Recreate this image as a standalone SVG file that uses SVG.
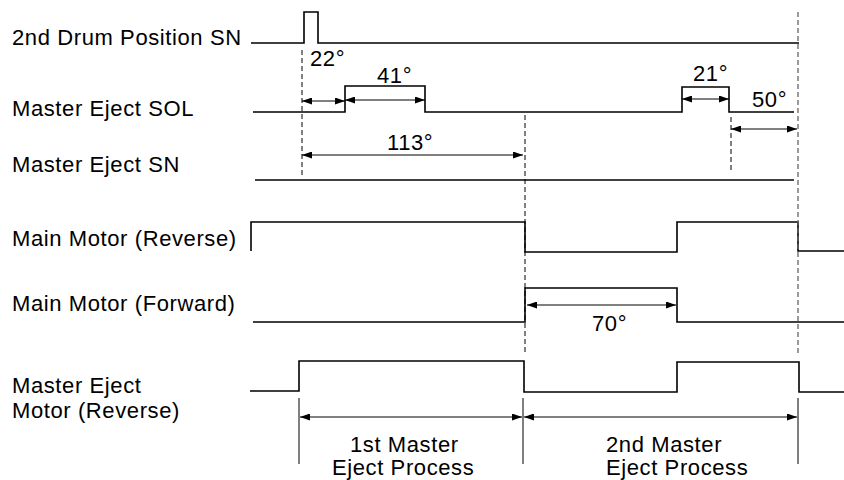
<svg xmlns="http://www.w3.org/2000/svg" width="844" height="480" viewBox="0 0 844 480">
<style>
text{font-family:"Liberation Sans",Arial,sans-serif;font-size:22px;fill:#000;letter-spacing:0.6px}
.sig{fill:none;stroke:#000;stroke-width:1.6}
.dash{fill:none;stroke:#000;stroke-width:1;stroke-dasharray:5,3}
.dashg{fill:none;stroke:#666;stroke-width:1.3;stroke-dasharray:5,3}
.dim{fill:none;stroke:#000;stroke-width:1;marker-start:url(#ah);marker-end:url(#ah)}
.ext{fill:none;stroke:#000;stroke-width:1}
</style>
<defs>
<marker id="ah" viewBox="0 0 10 7" refX="10" refY="3.5" markerWidth="10" markerHeight="7" markerUnits="userSpaceOnUse" orient="auto-start-reverse">
<path d="M0,0 L10,3.5 L0,7 z" fill="#000"/>
</marker>
</defs>
<rect width="844" height="480" fill="#fff"/>
<g id="labels">
<text x="12" y="45">2nd Drum Position SN</text>
<text x="12" y="116">Master Eject SOL</text>
<text x="12" y="172">Master Eject SN</text>
<text x="12" y="246">Main Motor (Reverse)</text>
<text x="12" y="311">Main Motor (Forward)</text>
<text x="12" y="393">Master Eject</text>
<text x="12" y="418">Motor (Reverse)</text>
</g>
<g id="drum-sn">
<polyline class="sig" points="251,43 304,43 304,12 318,12 318,43 799,43"/>
</g>
<g id="eject-sol">
<polyline class="sig" points="253,112 345,112 345,86 425,86 425,112 682,112 682,87 729,87 729,112 794,112"/>
</g>
<g id="eject-sn">
<polyline class="sig" points="255,180 794,180"/>
</g>
<g id="motor-rev">
<polyline class="sig" points="251,251 251,222 525,222 525,252 677,252 677,222 798,222 798,251 844,251"/>
</g>
<g id="motor-fwd">
<polyline class="sig" points="253,322 525,322 525,288 677,288 677,322 844,322"/>
</g>
<g id="eject-motor">
<polyline class="sig" points="250,391 299,391 299,361 524,361 524,392 677,392 677,362 799,362 799,392 844,392"/>
</g>
<g id="connectors">
<line class="dash" x1="302" y1="50" x2="302" y2="177"/>
<line class="dash" x1="525" y1="115" x2="525" y2="352"/>
<line class="dash" x1="731" y1="117" x2="731" y2="172"/>
<line class="dashg" x1="798" y1="12" x2="798" y2="355"/>
<line class="dim" x1="302" y1="101" x2="345" y2="101"/>
<line class="dim" x1="345" y1="100" x2="425" y2="100"/>
<line class="dim" x1="682" y1="99" x2="729" y2="99"/>
<line class="dim" x1="731" y1="129" x2="797" y2="129"/>
<line class="dim" x1="302" y1="155" x2="523" y2="155"/>
<line class="dim" x1="527" y1="305" x2="676" y2="305"/>
<line class="ext" x1="299" y1="398" x2="299" y2="464"/>
<line class="ext" x1="523" y1="398" x2="523" y2="464"/>
<line class="ext" x1="798" y1="398" x2="798" y2="464"/>
<line class="dim" x1="300" y1="417" x2="522" y2="417"/>
<line class="dim" x1="524" y1="417" x2="797" y2="417"/>
</g>
<g id="dim-labels">
<text x="310" y="66">22°</text>
<text x="377" y="83">41°</text>
<text x="693" y="81">21°</text>
<text x="752" y="107">50°</text>
<text x="387" y="150">113°</text>
<text x="592" y="331">70°</text>
<text x="350" y="452">1st Master</text>
<text x="332" y="475">Eject Process</text>
<text x="606" y="452">2nd Master</text>
<text x="606" y="475">Eject Process</text>
</g>
</svg>
